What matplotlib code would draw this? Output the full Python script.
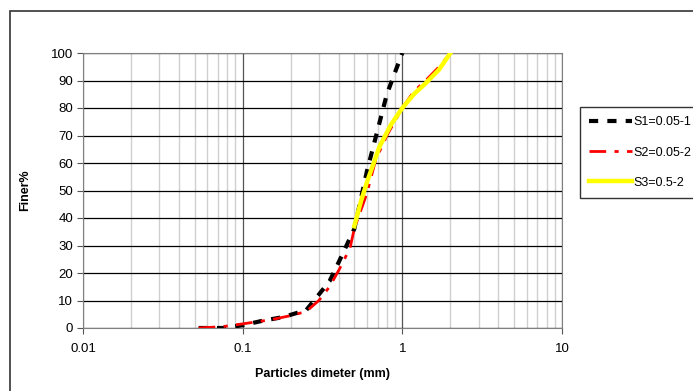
import matplotlib
matplotlib.use("Agg")
import matplotlib.pyplot as plt
from matplotlib.patches import Rectangle
from matplotlib.ticker import LogLocator, NullFormatter, FixedLocator

plt.rcParams['font.family'] = ['Liberation Sans', 'DejaVu Sans']

# sieve sizes (mm) and percent finer
s1_x = [0.053, 0.075, 0.1, 0.13, 0.18, 0.25, 0.28, 0.35, 0.4, 0.5, 0.6, 0.7, 0.8, 0.9, 1.0]
s1_y = [0, 0, 1, 2.5, 4, 6.5, 10, 17, 24, 36, 57, 72, 85, 93, 100]

s2_x = [0.053, 0.075, 0.1, 0.15, 0.2, 0.25, 0.3, 0.35, 0.4, 0.47, 0.5, 0.6, 0.68, 0.8, 1.0, 1.18, 1.4, 1.7, 2.0]
s2_y = [0, 0.5, 1.5, 3, 4.5, 6, 10, 15, 21, 29, 36, 49, 61, 70, 80, 86, 90, 95, 100]

s3_x = [0.5, 0.55, 0.6, 0.72, 0.85, 1.0, 1.18, 1.4, 1.7, 2.0]
s3_y = [37, 46, 53, 66, 74, 80, 85, 89, 94, 100]

labels = ["S1=0.05-1", "S2=0.05-2", "S3=0.5-2"]

fig = plt.figure(figsize=(6.93, 3.91), dpi=100)
ax = fig.add_axes([83/693, 1-328/391, (562-83)/693, (328-53)/391])

# outer chart frame
fig.patches.append(Rectangle((10/693, -0.1), 1.0, (391-11)/391 + 0.1, transform=fig.transFigure,
                             fill=False, edgecolor="#333333", linewidth=1.2))

ax.plot(s1_x, s1_y, color="black", lw=3, ls=(0, (2.2, 2.2)), label=labels[0], zorder=3)
ax.plot(s2_x, s2_y, color="red", lw=2, ls=(0, (6, 3, 1.5, 3)), label=labels[1], zorder=4)
ax.plot(s3_x, s3_y, color="#ffff00", lw=3.2, label=labels[2], zorder=5)

ax.set_xscale("log")
ax.set_xlim(0.01, 10)
ax.set_ylim(0, 100)
ax.set_yticks(range(0, 101, 10))
ax.xaxis.set_major_locator(FixedLocator([0.01, 0.1, 1, 10]))
ax.set_xticklabels(["0.01", "0.1", "1", "10"])
ax.xaxis.set_minor_locator(LogLocator(base=10, subs=range(2, 10)))
ax.xaxis.set_minor_formatter(NullFormatter())

ax.grid(True, which="major", axis="y", color="black", lw=0.9)
ax.grid(True, which="major", axis="x", color="#555555", lw=0.9)
ax.grid(True, which="minor", axis="x", color="#d0d0d0", lw=1.0)
ax.tick_params(axis="both", which="major", labelsize=9.5, length=4, color="#555555", pad=3)
ax.tick_params(axis="x", which="major", pad=7)
ax.tick_params(axis="x", which="minor", length=0)
for s in ax.spines.values():
    s.set_color("#808080")

ax.set_xlabel("Particles dimeter (mm)", fontsize=9, fontweight="bold", labelpad=9)
ax.set_ylabel("Finer%", fontsize=9, fontweight="bold", labelpad=14)

leg = ax.legend(loc="upper left", frameon=True,
                fontsize=9, handlelength=3.4, handletextpad=0.15, borderpad=0.75,
                labelspacing=1.45, fancybox=False, borderaxespad=0)
leg.set_bbox_to_anchor((580/693, 1-107/391), transform=fig.transFigure)
leg.get_frame().set_edgecolor("black")
leg.get_frame().set_linewidth(1.0)

fig.savefig("out.png", dpi=100)
